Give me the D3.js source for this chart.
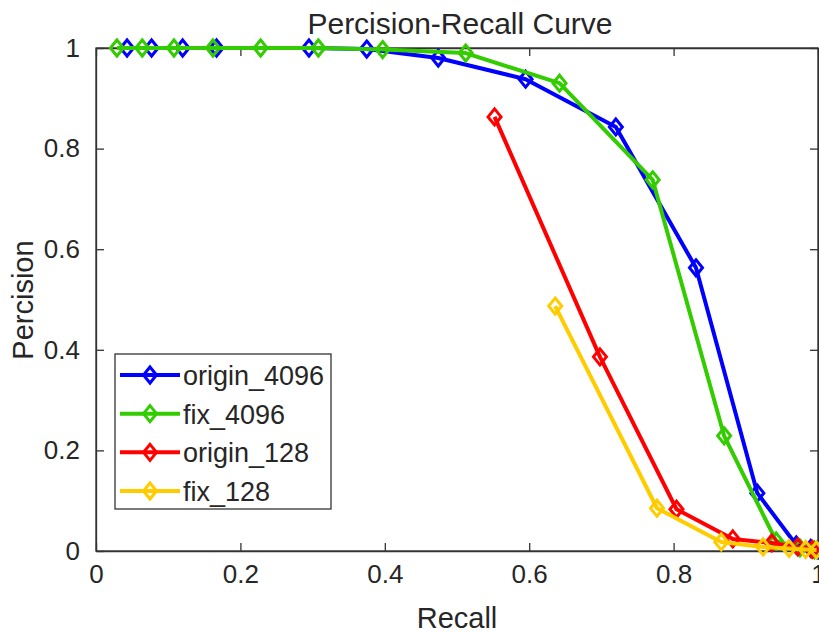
<!DOCTYPE html>
<html>
<head>
<meta charset="utf-8">
<script src="https://cdn.jsdelivr.net/npm/d3@7"></script>
<style>
  body { margin: 0; background: #fff; }
  svg text { font-family: "Liberation Sans", Arial, Helvetica, sans-serif; fill: #262626; }
</style>
</head>
<body>
<svg id="chart" width="819" height="633"></svg>
<script>
// values
var seriesNames = ["origin_4096", "fix_4096", "origin_128", "fix_128"];
var seriesColors = ["#0000ff", "#33cc00", "#ff0000", "#ffcc00"];

var recallOrigin4096 = [0.043, 0.077, 0.12, 0.167, 0.295, 0.375, 0.474, 0.595, 0.72, 0.831, 0.916, 0.97, 0.99, 1.0];
var precOrigin4096   = [1, 1, 1, 1, 1, 0.998, 0.98, 0.938, 0.843, 0.563, 0.115, 0.012, 0.005, 0.002];

var recallFix4096 = [0.029, 0.064, 0.108, 0.162, 0.228, 0.308, 0.397, 0.512, 0.642, 0.771, 0.87, 0.942, 0.975, 0.995];
var precFix4096   = [1, 1, 1, 1, 1, 1, 0.997, 0.99, 0.93, 0.738, 0.229, 0.02, 0.006, 0.002];

var recallOrigin128 = [0.552, 0.698, 0.804, 0.882, 0.936, 0.972, 0.992];
var precOrigin128   = [0.863, 0.386, 0.083, 0.024, 0.016, 0.008, 0.003];

var recallFix128 = [0.636, 0.777, 0.866, 0.924, 0.96, 0.983, 0.998];
var precFix128   = [0.487, 0.085, 0.018, 0.008, 0.005, 0.003, 0.002];

var xTicks = [0, 0.2, 0.4, 0.6, 0.8, 1];
var yTicks = [0, 0.2, 0.4, 0.6, 0.8, 1];

var allRecall = [recallOrigin4096, recallFix4096, recallOrigin128, recallFix128];
var allPrec = [precOrigin4096, precFix4096, precOrigin128, precFix128];

var svg = d3.select("#chart");
var plotL = 96, plotR = 818, plotT = 48, plotB = 551;

var xScale = d3.scaleLinear().domain([0, 1]).range([plotL, plotR]);
var yScale = d3.scaleLinear().domain([0, 1]).range([plotB, plotT]);

var axisColor = "#333";
var tickLen = 8;

// box
svg.append("rect")
    .attr("x", plotL).attr("y", plotT)
    .attr("width", plotR - plotL).attr("height", plotB - plotT)
    .attr("fill", "none").attr("stroke", axisColor).attr("stroke-width", 1.3);

// axes with inward ticks
var fmt = function(d) { return d === 0 || d === 1 ? String(d) : d3.format(".1f")(d); };

var gx = svg.append("g").attr("transform", "translate(0," + plotB + ")")
    .call(d3.axisBottom(xScale).tickValues(xTicks).tickSizeInner(-tickLen).tickSizeOuter(0).tickPadding(14).tickFormat(fmt));
var gxTop = svg.append("g").attr("transform", "translate(0," + plotT + ")")
    .call(d3.axisTop(xScale).tickValues(xTicks).tickSizeInner(-tickLen).tickSizeOuter(0).tickFormat(""));
var gy = svg.append("g").attr("transform", "translate(" + plotL + ",0)")
    .call(d3.axisLeft(yScale).tickValues(yTicks).tickSizeInner(-tickLen).tickSizeOuter(0).tickPadding(16).tickFormat(fmt));
var gyRight = svg.append("g").attr("transform", "translate(" + plotR + ",0)")
    .call(d3.axisRight(yScale).tickValues(yTicks).tickSizeInner(-tickLen).tickSizeOuter(0).tickFormat(""));

[gx, gxTop, gy, gyRight].forEach(function(g) {
    g.select(".domain").attr("stroke", axisColor).attr("stroke-width", 1.3);
    g.selectAll(".tick line").attr("stroke", axisColor).attr("stroke-width", 1.3);
    g.selectAll(".tick text").style("font-size", "26px").attr("fill", "#262626")
        .style("font-family", "'Liberation Sans', Arial, sans-serif");
});

// diamond marker
function diamond(cx, cy) {
    var w = 6.5, h = 8;
    return "M" + cx + "," + (cy - h) + "L" + (cx + w) + "," + cy + "L" + cx + "," + (cy + h) + "L" + (cx - w) + "," + cy + "Z";
}

var line = d3.line()
    .x(function(d) { return xScale(d[0]); })
    .y(function(d) { return yScale(d[1]); });

seriesNames.forEach(function(name, i) {
    var pts = d3.zip(allRecall[i], allPrec[i]);
    var g = svg.append("g").attr("class", "series");
    g.append("path")
        .attr("d", line(pts))
        .attr("fill", "none")
        .attr("stroke", seriesColors[i])
        .attr("stroke-width", 4)
        .attr("stroke-linejoin", "round");
    g.selectAll("path.mark")
        .data(pts)
        .enter()
        .append("path")
        .attr("class", "mark")
        .attr("d", function(d) { return diamond(xScale(d[0]), yScale(d[1])); })
        .attr("fill", "none")
        .attr("stroke", seriesColors[i])
        .attr("stroke-width", 3);
});

// title and labels
svg.append("text")
    .attr("x", 460).attr("y", 34)
    .attr("text-anchor", "middle")
    .style("font-size", "30px")
    .attr("fill", "#000")
    .text("Percision-Recall Curve");

svg.append("text")
    .attr("x", 457).attr("y", 628)
    .attr("text-anchor", "middle")
    .style("font-size", "29px")
    .text("Recall");

svg.append("text")
    .attr("transform", "translate(33,300) rotate(-90)")
    .attr("text-anchor", "middle")
    .style("font-size", "29px")
    .text("Percision");

// legend
var legend = svg.append("g");
legend.append("rect")
    .attr("x", 115).attr("y", 354)
    .attr("width", 216).attr("height", 155)
    .attr("fill", "#fff").attr("stroke", axisColor).attr("stroke-width", 1.3);

var legendY = d3.scalePoint().domain(seriesNames).range([375, 491]);

seriesNames.forEach(function(name, i) {
    var y = legendY(name);
    legend.append("line")
        .attr("x1", 120).attr("x2", 180)
        .attr("y1", y).attr("y2", y)
        .attr("stroke", seriesColors[i]).attr("stroke-width", 4);
    legend.append("path")
        .attr("d", diamond(150, y))
        .attr("fill", "none")
        .attr("stroke", seriesColors[i]).attr("stroke-width", 3);
    legend.append("text")
        .attr("x", 183).attr("y", y + 10)
        .style("font-size", "27px")
        .text(name);
});
</script>
</body>
</html>
